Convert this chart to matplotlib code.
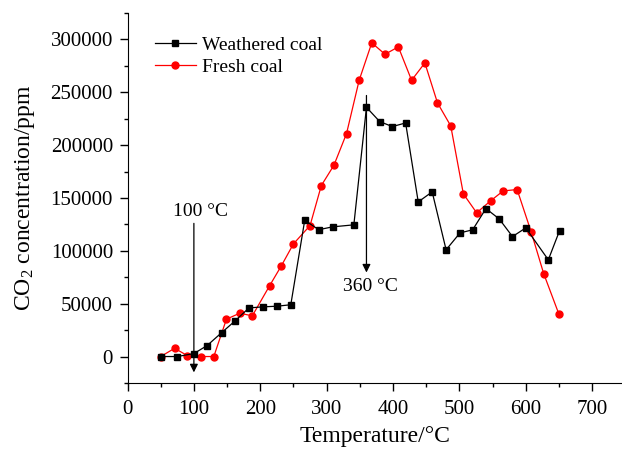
import matplotlib
matplotlib.use("Agg")
import matplotlib.pyplot as plt
from matplotlib.ticker import MultipleLocator

plt.rcParams['font.family'] = ['Liberation Serif', 'DejaVu Serif']
plt.rcParams['mathtext.fontset'] = 'custom'
plt.rcParams['mathtext.rm'] = 'Liberation Serif'
plt.rcParams['mathtext.it'] = 'Liberation Serif:italic'

weathered_T = [50, 75, 100, 120, 142, 162, 183, 204, 225, 246, 267, 288, 309, 341,
               360, 380, 399, 419, 438, 459, 480, 501, 520, 540, 560, 580, 600, 634, 651]
weathered_v = [0, 0, 2800, 10400, 22700, 33700, 46000, 47000, 47600, 49000, 129000, 120000,
               122700, 124600, 235800, 222300, 217600, 221000, 146300, 155800, 101000,
               117000, 119900, 140000, 130200, 113500, 121700, 91500, 119200]

fresh_T = [50, 71, 90, 110, 130, 149, 169, 188, 214, 232, 250, 275, 292, 311, 330, 349,
           368, 388, 408, 428, 448, 467, 487, 506, 526, 547, 566, 587, 608, 627, 650]
fresh_v = [0, 7800, 900, 0, 0, 35300, 41000, 38500, 66900, 86100, 106600, 123900,
           161800, 181000, 211000, 261400, 296800, 286000, 293000, 261400, 277800,
           240000, 218200, 153900, 136000, 147300, 156700, 158000, 118200, 78500, 40000]

labels = ["Weathered coal", "Fresh coal"]

fig = plt.figure(figsize=(6.22, 4.5), dpi=100)
ax = fig.add_axes([0.205, 0.149, 0.795, 0.822])

ax.plot(weathered_T, weathered_v, color='black', marker='s', markersize=4.5, lw=0.9,
        label=labels[0], zorder=3)
ax.plot(fresh_T, fresh_v, color='red', marker='o', markersize=5, lw=0.9,
        label=labels[1], zorder=2)

ax.set_xlim(0, 745)
ax.set_ylim(-25000, 325000)
ax.xaxis.set_major_locator(MultipleLocator(100))
ax.xaxis.set_minor_locator(MultipleLocator(50))
ax.yaxis.set_major_locator(MultipleLocator(50000))
ax.yaxis.set_minor_locator(MultipleLocator(25000))
ax.spines['top'].set_visible(False)
ax.spines['right'].set_visible(False)
ax.tick_params(which='both', direction='out', labelsize=15, width=1)
ax.tick_params(which='major', length=5.5)
ax.tick_params(which='minor', length=3)
ax.tick_params(axis='x', which='major', pad=7)
ax.tick_params(axis='y', which='major', pad=5)

ax.set_xlabel("Temperature/°C", fontsize=17, labelpad=5)
ax.set_ylabel("CO$_2$ concentration/ppm", fontsize=17, labelpad=10)

ax.annotate("", xy=(100, -15000), xytext=(100, 126000),
            arrowprops=dict(arrowstyle='-|>', color='black', lw=0.9,
                            mutation_scale=12, shrinkA=0, shrinkB=0))
ax.text(110, 137000, "100 °C", ha='center', va='center', fontsize=14)
ax.annotate("", xy=(360, 79500), xytext=(360, 247000),
            arrowprops=dict(arrowstyle='-|>', color='black', lw=0.9,
                            mutation_scale=12, shrinkA=0, shrinkB=0))
ax.text(366, 66000, "360 °C", ha='center', va='center', fontsize=14)

ax.legend(loc='upper left', bbox_to_anchor=(0.02, 0.984), frameon=False, fontsize=14,
          handlelength=2.1, handletextpad=0.3, labelspacing=0.2)

fig.savefig("out.png", dpi=100)
